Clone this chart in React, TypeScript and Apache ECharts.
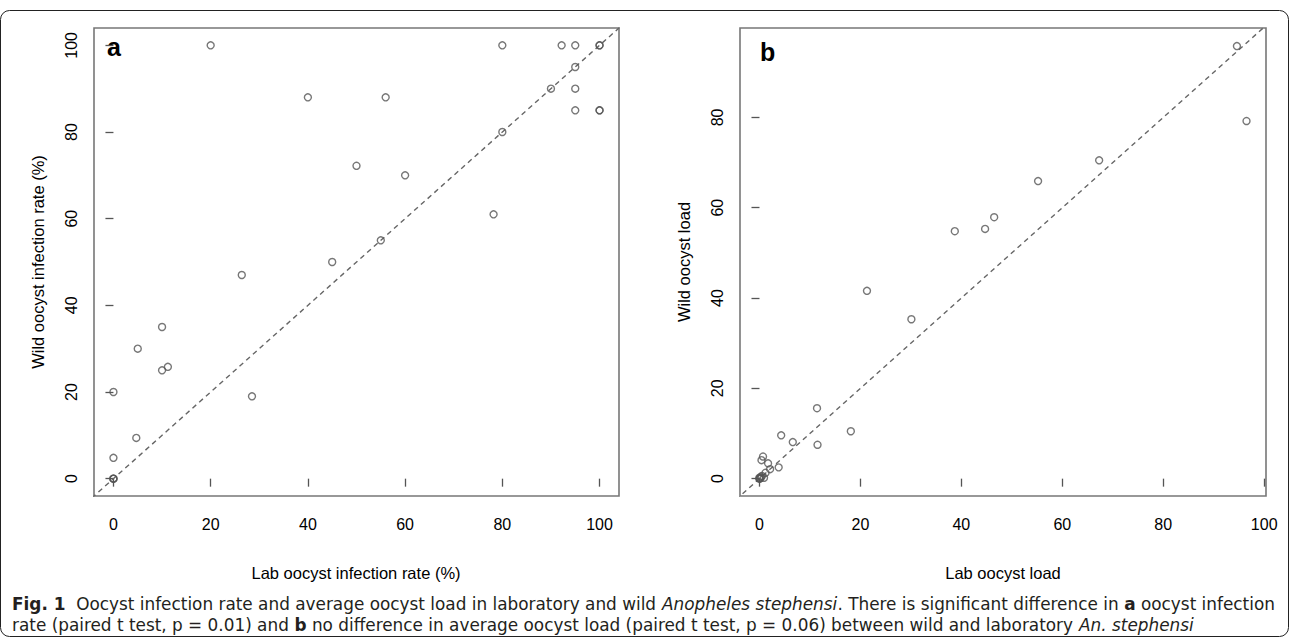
import React, { useEffect, useRef } from "react";
import * as echarts from "echarts";

// Panel a: oocyst infection rate (%) — [lab, wild]
const rateLab = [0, 0, 0, 0, 0, 4.7, 5, 10, 10, 11.2, 20, 26.4, 28.5, 40, 45, 50, 55, 56, 60, 78.2, 80, 80, 90, 92.2, 95, 95, 95, 95, 100, 100, 100, 100];
const rateWild = [0, 0, 0, 4.8, 20, 9.4, 30, 35, 25, 25.8, 100, 47, 19, 88, 50, 72.2, 55, 88, 70, 61, 80, 100, 90, 100, 100, 95, 90, 85, 100, 100, 85, 85];

// Panel b: average oocyst load — [lab, wild]
const loadLab = [0, 0, 0, 0.2, 0.5, 0.9, 0.3, 1.2, 2.1, 3.8, 1.7, 0.4, 0.7, 4.3, 6.6, 11.5, 11.4, 18.1, 21.3, 30.1, 38.7, 44.7, 46.5, 55.2, 67.3, 94.6, 96.5];
const loadWild = [0, 0, 0.2, 0.1, 0.6, 0.2, 0.4, 1.3, 2.1, 2.5, 3.4, 4.1, 4.9, 9.6, 8.1, 7.5, 15.6, 10.5, 41.6, 35.3, 54.8, 55.3, 57.9, 65.9, 70.5, 95.8, 79.2];

const tickValues = [0, 20, 40, 60, 80, 100];
const yTicksB = [0, 20, 40, 60, 80];

// Caption (rich-text markup: {b|...} bold, {i|...} italic)
const captionLine1 =
  "{b|Fig. 1}  Oocyst infection rate and average oocyst load in laboratory and wild {i|Anopheles stephensi}. There is significant difference in {b|a} oocyst infection";
const captionLine2 =
  "rate (paired t test, p = 0.01) and {b|b} no difference in average oocyst load (paired t test, p = 0.06) between wild and laboratory {i|An. stephensi}";

const FONT = "'Liberation Sans', Arial, Helvetica, sans-serif";
const CAP_FONT = "'DejaVu Sans Condensed', 'Liberation Sans Narrow', 'Liberation Sans', sans-serif";
const CAP_SIZE = 18;
const CAP_LEFT = 12;
const CAP_RIGHT = 1275;

const pairs = (xs: number[], ys: number[]) => xs.map((x, i) => [x, ys[i]]);

function segments(token: string) {
  const out: { t: string; s: string }[] = [];
  const re = /\{(\w)\|([^}]*)\}|([^{]+)/g;
  let m: RegExpExecArray | null;
  while ((m = re.exec(token))) {
    if (m[3] !== undefined) out.push({ t: m[3], s: "n" });
    else out.push({ t: m[2], s: m[1] });
  }
  return out;
}

export default function App() {
  const ref = useRef<HTMLDivElement>(null);
  useEffect(() => {
    if (!ref.current) return;
    const chart = echarts.init(ref.current, null, { renderer: "svg" });

    const ctx = document.createElement("canvas").getContext("2d")!;
    const measure = (token: string) =>
      segments(token).reduce((acc, seg) => {
        const w = seg.s === "b" ? "bold" : "normal";
        const st = seg.s === "i" ? "italic" : "normal";
        ctx.font = `${st} ${w} ${CAP_SIZE}px ${CAP_FONT}`;
        return acc + ctx.measureText(seg.t).width;
      }, 0);

    const line1W = measure(captionLine1);
    const capScale = Math.min(1.15, (CAP_RIGHT - CAP_LEFT) / line1W);

    const capRich = {
      b: { fontWeight: "bold", fontSize: CAP_SIZE, fontFamily: CAP_FONT, fill: "#231f20" },
      i: { fontStyle: "italic", fontSize: CAP_SIZE, fontFamily: CAP_FONT, fill: "#231f20" },
    };
    const capStyle = (text: string) => ({
      text,
      font: `${CAP_SIZE}px ${CAP_FONT}`,
      fill: "#231f20",
      verticalAlign: "middle",
      rich: capRich,
    });

    const axisCommon = (ticks: number[], isY: boolean) => ({
      type: "value" as const,
      splitLine: { show: false },
      axisLine: { show: false },
      axisTick: {
        show: true,
        inside: false,
        length: 8,
        customValues: ticks,
        lineStyle: { color: "#555", width: 1.3 },
      },
      axisLabel: {
        customValues: ticks,
        color: "#000",
        fontSize: 16,
        fontFamily: FONT,
        margin: isY ? 15 : 20,
        rotate: isY ? 90 : 0,
      },
    });

    const scatterStyle = {
      type: "scatter" as const,
      symbol: "circle",
      symbolSize: 7,
      itemStyle: { color: "rgba(0,0,0,0)", borderColor: "#555", borderWidth: 1.4 },
      emphasis: { disabled: true },
      z: 3,
    };
    const diag = {
      type: "line" as const,
      data: [[-10, -10], [110, 110]],
      symbol: "none",
      clip: true,
      lineStyle: { color: "#666", width: 1.4, type: [5, 4] },
      silent: true,
      z: 2,
    };

    chart.setOption({
      animation: false,
      grid: [
        { left: 94, top: 28, width: 525, height: 468, show: true, borderColor: "#777", borderWidth: 1.6, backgroundColor: "transparent" },
        { left: 740, top: 28, width: 526, height: 468, show: true, borderColor: "#777", borderWidth: 1.6, backgroundColor: "transparent" },
      ],
      xAxis: [
        { ...axisCommon(tickValues, false), gridIndex: 0, min: -4, max: 104 },
        { ...axisCommon(tickValues, false), gridIndex: 1, min: -3.86, max: 100.36 },
      ],
      yAxis: [
        { ...axisCommon(tickValues, true), gridIndex: 0, min: -4, max: 104 },
        { ...axisCommon(yTicksB, true), gridIndex: 1, min: -3.84, max: 99.8 },
      ],
      series: [
        { ...diag, xAxisIndex: 0, yAxisIndex: 0 },
        { ...scatterStyle, xAxisIndex: 0, yAxisIndex: 0, data: pairs(rateLab, rateWild) },
        { ...diag, xAxisIndex: 1, yAxisIndex: 1 },
        { ...scatterStyle, xAxisIndex: 1, yAxisIndex: 1, data: pairs(loadLab, loadWild) },
      ],
      graphic: [
        {
          type: "rect",
          shape: { x: 0.5, y: 10.5, width: 1288, height: 626, r: 9 },
          style: { fill: "none", stroke: "#222", lineWidth: 1 },
          silent: true,
        },
        { type: "text", x: 107, y: 47, style: { text: "a", font: `bold 25px ${FONT}`, fill: "#000", verticalAlign: "middle" } },
        { type: "text", x: 760, y: 52, style: { text: "b", font: `bold 25px ${FONT}`, fill: "#000", verticalAlign: "middle" } },
        {
          type: "text", x: 356, y: 573,
          style: { text: "Lab oocyst infection rate (%)", font: `16.5px ${FONT}`, fill: "#000", align: "center", verticalAlign: "middle" },
        },
        {
          type: "text", x: 1003, y: 573,
          style: { text: "Lab oocyst load", font: `16.5px ${FONT}`, fill: "#000", align: "center", verticalAlign: "middle" },
        },
        {
          type: "text", x: 38, y: 262, rotation: Math.PI / 2,
          style: { text: "Wild oocyst infection rate (%)", font: `16.5px ${FONT}`, fill: "#000", align: "center", verticalAlign: "middle" },
        },
        {
          type: "text", x: 684, y: 262, rotation: Math.PI / 2,
          style: { text: "Wild oocyst load", font: `16.5px ${FONT}`, fill: "#000", align: "center", verticalAlign: "middle" },
        },
        { type: "text", x: CAP_LEFT, y: 604, scaleX: capScale, silent: true, style: capStyle(captionLine1) },
        { type: "text", x: CAP_LEFT, y: 625, scaleX: capScale, silent: true, style: capStyle(captionLine2) },
      ],
    });
    return () => chart.dispose();
  }, []);

  return (
    <div
      ref={ref}
      style={{ position: "fixed", left: 0, top: 0, width: 1293, height: 641, background: "#fff" }}
    />
  );
}
